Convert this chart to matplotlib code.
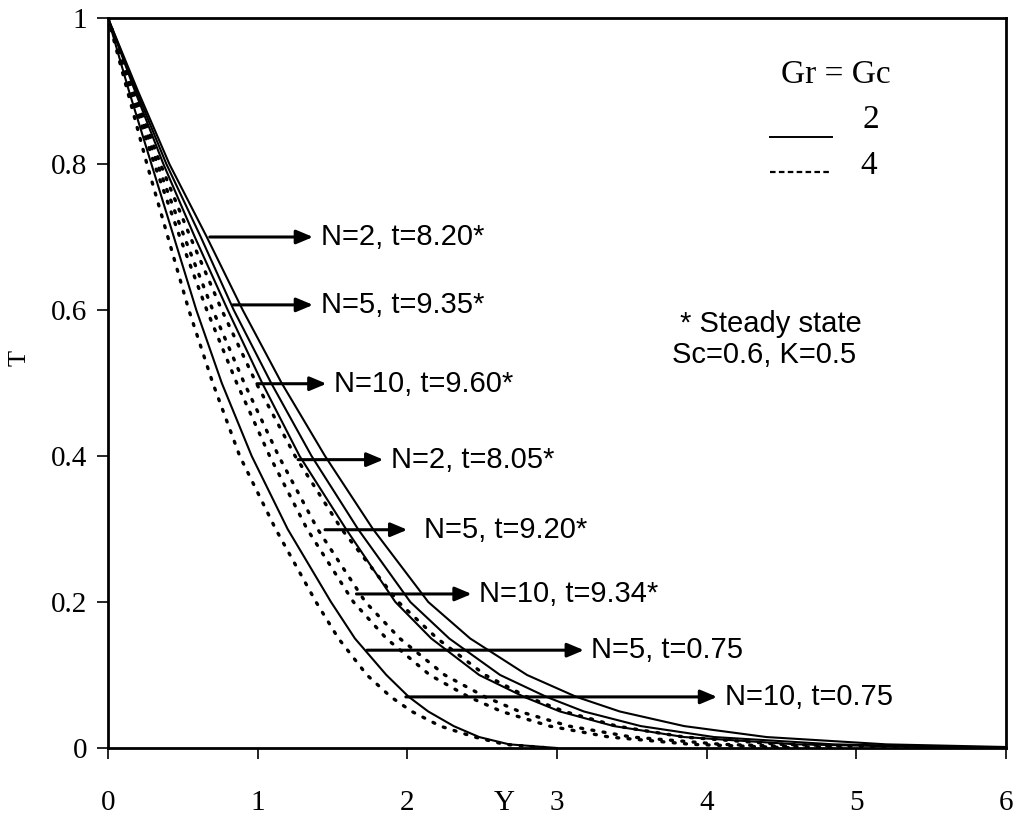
import matplotlib
matplotlib.use("Agg")
import matplotlib.pyplot as plt

t_levels = [1, 0.9, 0.8, 0.7, 0.6, 0.5, 0.4, 0.3, 0.2, 0.15, 0.1, 0.07, 0.05, 0.03, 0.015, 0.005, 0.0]

# Gr = Gc = 2 (solid)
s1_y = [0, 0.14, 0.29, 0.44, 0.59, 0.76, 0.96, 1.20, 1.49, 1.65, 1.86, 2.01, 2.14, 2.31, 2.48, 2.68, 3.0]
s2_y = [0, 0.18, 0.37, 0.58, 0.80, 1.03, 1.28, 1.59, 1.92, 2.16, 2.48, 2.78, 3.02, 3.38, 3.85, 4.6, 5.8]
s3_y = [0, 0.19, 0.39, 0.62, 0.84, 1.09, 1.36, 1.67, 2.02, 2.28, 2.62, 2.93, 3.18, 3.56, 4.05, 4.85, 6.0]
s4_y = [0, 0.20, 0.41, 0.66, 0.90, 1.16, 1.45, 1.77, 2.14, 2.42, 2.80, 3.13, 3.42, 3.85, 4.4, 5.2, 6.3]

# Gr = Gc = 4 (dotted)
d1_y = [0, 0.13, 0.26, 0.40, 0.54, 0.70, 0.88, 1.12, 1.39, 1.54, 1.73, 1.89, 2.03, 2.22, 2.45, 2.65, 2.95]
d2_y = [0, 0.15, 0.31, 0.48, 0.66, 0.86, 1.08, 1.33, 1.64, 1.86, 2.15, 2.41, 2.63, 2.95, 3.35, 3.9, 4.6]
d3_y = [0, 0.16, 0.33, 0.51, 0.70, 0.91, 1.14, 1.40, 1.72, 1.95, 2.25, 2.52, 2.75, 3.08, 3.5, 4.1, 4.9]
d4_y = [0, 0.17, 0.35, 0.55, 0.76, 0.99, 1.25, 1.56, 1.94, 2.20, 2.52, 2.80, 3.05, 3.40, 3.85, 4.5, 5.5]

solid_curves = [s1_y, s2_y, s3_y, s4_y]
dotted_curves = [d1_y, d2_y, d3_y, d4_y]

labels = ["N=2, t=8.20*", "N=5, t=9.35*", "N=10, t=9.60*", "N=2, t=8.05*",
          "N=5, t=9.20*", "N=10, t=9.34*", "N=5, t=0.75", "N=10, t=0.75"]
# arrow start (Y, T), arrow tip Y, text Y
arrow_start = [(0.68, 0.70), (0.835, 0.607), (0.995, 0.499), (1.27, 0.395),
               (1.45, 0.299), (1.66, 0.211), (1.73, 0.134), (1.99, 0.070)]
arrow_tip = [1.37, 1.37, 1.46, 1.84, 2.0, 2.43, 3.18, 4.07]
text_x = [1.42, 1.42, 1.51, 1.89, 2.11, 2.48, 3.23, 4.12]

xticks = [0, 1, 2, 3, 4, 5, 6]
yticks = [0, 0.2, 0.4, 0.6, 0.8, 1]
ytick_labels = ["0", "0.2", "0.4", "0.6", "0.8", "1"]

fig = plt.figure(figsize=(10.18, 8.24), dpi=100)
ax = fig.add_axes([108 / 1018, 76 / 824, 898 / 1018, 730 / 824])

for y in solid_curves:
    ax.plot(y, t_levels, color="black", lw=1.5)
for y in dotted_curves:
    ax.plot(y, t_levels, color="black", lw=2.4, linestyle=(0, (0.6, 2.8)),
            dash_capstyle="round")

sans = "Liberation Sans"
serif = "Liberation Serif"

for lab, (x0, y0), x1, tx in zip(labels, arrow_start, arrow_tip, text_x):
    ax.annotate("", xy=(x1, y0), xytext=(x0, y0),
                arrowprops=dict(arrowstyle="-|>,head_length=1.0,head_width=0.42",
                                color="black", lw=2.2, shrinkA=0, shrinkB=0))
    ax.text(tx, y0, lab, fontsize=21, family=sans, va="center", ha="left")

ax.text(3.82, 0.581, "* Steady state", fontsize=21, family=sans, ha="left", va="center")
ax.text(3.77, 0.538, "Sc=0.6, K=0.5", fontsize=21, family=sans, ha="left", va="center")

# legend
ax.text(4.86, 0.922, "Gr = Gc", fontsize=24, family=serif, ha="center", va="center")
ax.text(5.10, 0.860, "2", fontsize=24, family=serif, ha="center", va="center")
ax.text(5.08, 0.798, "4", fontsize=24, family=serif, ha="center", va="center")
ax.plot([4.42, 4.84], [0.837, 0.837], color="black", lw=1.4)
ax.plot([4.42, 4.84], [0.789, 0.789], color="black", lw=1.6, linestyle=(0, (2.5, 1.5)))

ax.set_xlim(0, 6)
ax.set_ylim(0, 1)
ax.set_xticks(xticks)
ax.set_yticks(yticks)
ax.set_yticklabels(ytick_labels)
for lab in ax.get_xticklabels() + ax.get_yticklabels():
    lab.set_family(serif)
    lab.set_fontsize(21)
ax.tick_params(direction="out", length=8, width=1.2)
ax.tick_params(axis="x", pad=22)
ax.tick_params(axis="y", pad=7)
for sp in ax.spines.values():
    sp.set_linewidth(2)

ax.text(2.65, -0.075, "Y", fontsize=21, family=serif, ha="center", va="center")
ax.text(-0.59, 0.535, "T", fontsize=19, family=serif, ha="center", va="center", rotation=90)

fig.savefig("out.png", dpi=100)
